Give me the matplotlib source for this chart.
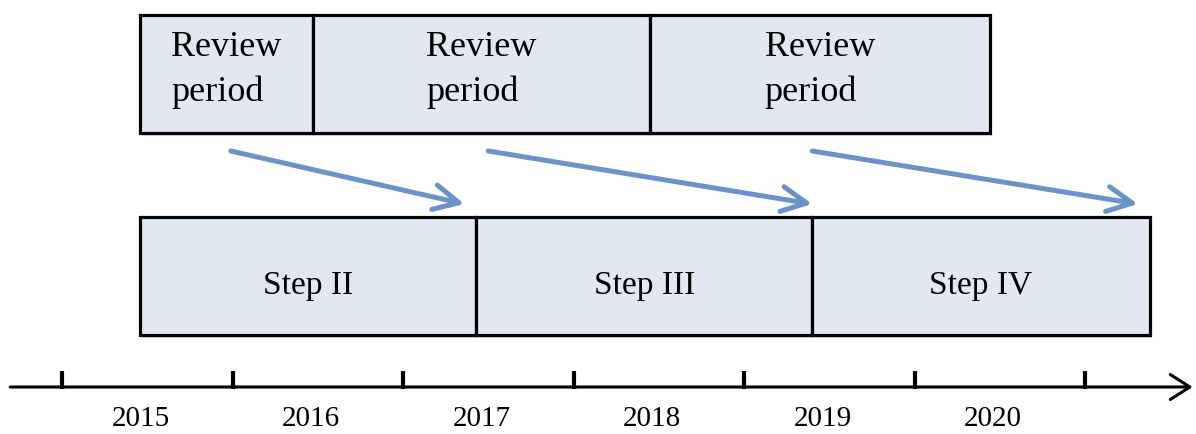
import matplotlib.pyplot as plt
from matplotlib.patches import Rectangle, FancyArrowPatch

# timeline data (x in years)
years = [2015, 2016, 2017, 2018, 2019, 2020]
tick_years = [2015, 2016, 2017, 2018, 2019, 2020, 2021]

review_starts = [2015.46, 2016.47, 2018.45]
review_ends = [2016.47, 2018.45, 2020.44]
review_labels = ["Review\nperiod", "Review\nperiod", "Review\nperiod"]

step_starts = [2015.46, 2017.43, 2019.40]
step_ends = [2017.43, 2019.40, 2021.38]
step_labels = ["Step II", "Step III", "Step IV"]

# arrows from review period to the start of the following step
arrow_from = [2015.99, 2017.50, 2019.40]
arrow_to = [2017.36, 2019.40, 2021.31]

# layout (vertical, pixel-like units from top)
REVIEW_TOP, REVIEW_BOT = 15, 133
STEP_TOP, STEP_BOT = 217, 335
AXIS_Y = 387
LABEL_Y = 419
ARROW_Y0, ARROW_Y1 = 151, 204

FILL = "#e2e8f2"
EDGE = "black"
BLUE = "#6b93c9"
FONT = "Liberation Serif"

px_per_year = 170.5
x0 = 2015 - 62 / px_per_year
x1 = x0 + 1196 / px_per_year

fig = plt.figure(figsize=(11.96, 4.34), dpi=100)
ax = fig.add_axes([0, 0, 1, 1])
ax.set_xlim(x0, x1)
ax.set_ylim(434, 0)
ax.axis("off")


def draw_box(start, end, top, bot, label, size, dy=0, **text_kw):
    # soft shadow
    ax.add_patch(Rectangle((start + 0.012, top + 3), end - start, bot - top,
                           facecolor="#c8c8c8", edgecolor="none", alpha=0.5, zorder=1))
    ax.add_patch(Rectangle((start, top), end - start, bot - top,
                           facecolor=FILL, edgecolor=EDGE, linewidth=2.3, zorder=2))
    ax.text((start + end) / 2, (top + bot) / 2 + dy, label, fontsize=size, family=FONT,
            ha="center", va="center", zorder=3, **text_kw)


for s, e, lab in zip(review_starts, review_ends, review_labels):
    draw_box(s, e, REVIEW_TOP, REVIEW_BOT, lab, 26, dy=-4,
             multialignment="left", linespacing=1.45)

for s, e, lab in zip(step_starts, step_ends, step_labels):
    draw_box(s, e, STEP_TOP, STEP_BOT, lab, 24, dy=10)

for a, b in zip(arrow_from, arrow_to):
    ax.add_patch(FancyArrowPatch((a, ARROW_Y0), (b, ARROW_Y1),
                                 arrowstyle="->,head_length=0.9,head_width=0.45",
                                 color=BLUE, linewidth=3.6, mutation_scale=20,
                                 shrinkA=0, shrinkB=0, zorder=3))

# time axis
ax.add_patch(FancyArrowPatch((x0 + 0.06, AXIS_Y), (x1 - 0.02, AXIS_Y),
                             arrowstyle="->,head_length=0.7,head_width=0.45",
                             color="black", linewidth=2.2, mutation_scale=20,
                             shrinkA=0, shrinkB=0, zorder=3))
ax.vlines(tick_years, AXIS_Y - 16, AXIS_Y + 2, color="black", linewidth=3, zorder=3)

for y in years:
    ax.text(y + 0.46, LABEL_Y, str(y), fontsize=21, family=FONT,
            ha="center", va="center")

fig.savefig("out.png", dpi=100)
